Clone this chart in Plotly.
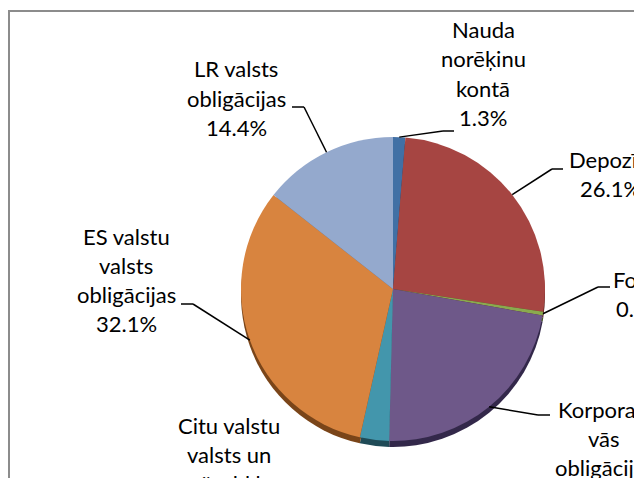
import math
import plotly.graph_objects as go

# ---- data ----
labels = ["Nauda norēķinu kontā", "Depozīti", "Fondi", "Korporatīvās obligācijas",
          "Citu valstu valsts un pašvaldību obligācijas", "ES valstu valsts obligācijas",
          "LR valsts obligācijas"]
label_lines = [["Nauda", "norēķinu", "kontā"], ["Depozīti"], ["Fondi"],
               ["Korporatī", "vās", "obligācijas"],
               ["Citu valstu", "valsts un", "pašvaldību", "obligācijas"],
               ["ES valstu", "valsts", "obligācijas"], ["LR valsts", "obligācijas"]]
values = [1.3, 26.1, 0.4, 22.6, 3.1, 32.1, 14.4]

# ---- style ----
W, H = 642, 478
OFF = 8  # page body margin
colors = ["#4170A5", "#A64542", "#8AAA4E", "#6E5889", "#4396AC", "#D8843F", "#94A9CD"]
rim_colors = ["#22405f", "#5c2322", "#4a5c28", "#33284a", "#1f4b57", "#7a4519", "#56657f"]
CX, CY, R = 393, 289, 152
RIM = 6
FONT = "Lato"
FS = 22
LH = 29
TEXT_DY = -3
# label anchor info (px): elbow point, end of leader, label centre x, first line centre y
label_pos = [
    dict(elbow=(443, 131), end=(454, 131), cx=483, y0=33),
    dict(elbow=(552, 169), end=(563, 169), cx=610, y0=163),
    dict(elbow=(598, 287), end=(610, 287), cx=640, y0=282),
    dict(elbow=(538, 415), end=(550, 415), cx=604, y0=412),
    None,
    dict(elbow=(193, 304), end=(181, 304), cx=126, y0=239),
    dict(elbow=(304, 107), end=(292, 107), cx=236, y0=72),
]
citu_pos = dict(cx=229, y0=428)


def px(x):
    return (x - OFF) / W


def py(y):
    return 1 - (y - OFF) / H


fig = go.Figure()

# 3D rim (darker copy shifted down)
fig.add_trace(go.Pie(
    values=values, labels=labels, sort=False, direction="clockwise", rotation=0,
    marker=dict(colors=rim_colors, line=dict(width=0)), textinfo="none",
    hoverinfo="skip", showlegend=False,
    domain=dict(x=[px(CX - R), px(CX + R)], y=[py(CY + RIM + R), py(CY + RIM - R)]),
))
fig.add_trace(go.Pie(
    values=values, labels=labels, sort=False, direction="clockwise", rotation=0,
    marker=dict(colors=colors, line=dict(width=0)), textinfo="none",
    showlegend=False,
    domain=dict(x=[px(CX - R), px(CX + R)], y=[py(CY + R), py(CY - R)]),
))

total = sum(values)
cum = 0
shapes = []
annotations = []
for i, v in enumerate(values):
    mid = (cum + v / 2) / total * 2 * math.pi
    cum += v
    sx = CX + R * math.sin(mid)
    sy = CY - R * math.cos(mid)
    lines = label_lines[i] + [f"{v:.1f}%"]
    pos = label_pos[i]
    if pos is None:
        pos = citu_pos
    else:
        for (x0, y0), (x1, y1) in [((sx, sy), pos["elbow"]), (pos["elbow"], pos["end"])]:
            shapes.append(dict(type="line", xref="paper", yref="paper",
                               x0=px(x0), y0=py(y0), x1=px(x1), y1=py(y1),
                               line=dict(color="black", width=1.5)))
    for k, t in enumerate(lines):
        annotations.append(dict(text=t, xref="paper", yref="paper",
                                x=px(pos["cx"]), y=py(pos["y0"] + k * LH + TEXT_DY),
                                xanchor="center", yanchor="middle", showarrow=False,
                                font=dict(family=FONT, size=FS, color="black")))

# chart frame
shapes.append(dict(type="rect", xref="paper", yref="paper",
                   x0=px(9), y0=py(H + 40), x1=px(W + 40), y1=py(11),
                   line=dict(color="#8c8c8c", width=2), layer="below"))

fig.update_layout(width=W, height=H, margin=dict(l=0, r=0, t=0, b=0),
                  paper_bgcolor="white", plot_bgcolor="white",
                  shapes=shapes, annotations=annotations)
fig.write_html("out.html")
